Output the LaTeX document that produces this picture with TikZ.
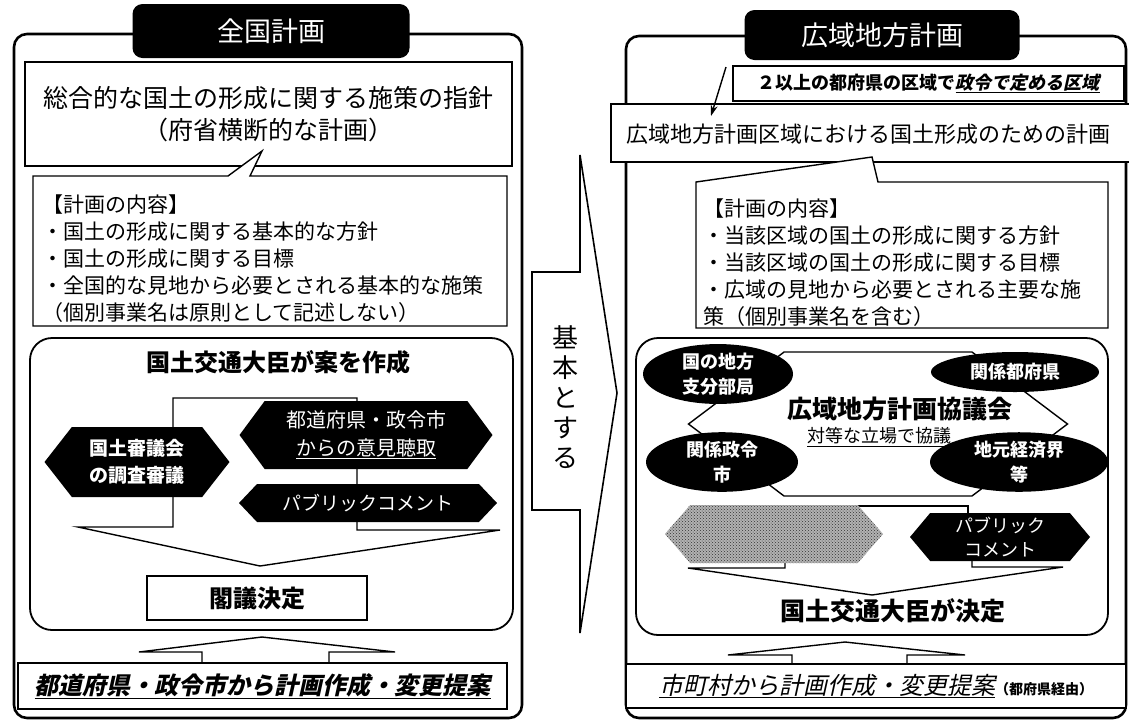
\documentclass[tikz,border=0pt]{standalone}
\usepackage{fontspec}
\setmainfont{Noto Sans CJK JP}
\newfontfamily\slantjp{Noto Sans CJK JP}[FakeSlant=0.22]
\usepackage{tikz}
\usetikzlibrary{positioning,shapes.geometric,shapes.symbols,arrows.meta,patterns}

\newcommand{\fsz}[1]{\fontsize{#1}{#1}\selectfont}

\begin{document}
\begin{tikzpicture}[x=1pt, y=-1pt,
    panel/.style={draw, line width=2.6pt, rounded corners=13pt},
    stage/.style={draw, line width=1.8pt, rounded corners=22pt},
    tab/.style={fill=black, rounded corners=10pt, text=white, inner sep=0pt, font=\fsz{27}},
    txtbox/.style={draw, line width=1.4pt, fill=white, inner sep=0pt},
    hexa/.style={signal, signal to=west and east, fill=black, text=white, inner sep=0pt, align=center},
    oval/.style={ellipse, fill=black, text=white, inner sep=0pt, align=center, font=\bfseries\fontsize{18}{25}\selectfont},
    conn/.style={line width=1.4pt}]
    \useasboundingbox (0,0) rectangle (1129,724);

    % National plan
    \draw[panel] (14,34) rectangle (522,718);
    \node[tab, minimum width=277pt, minimum height=54pt] (tab1) at (271,31) {全国計画};
    \node[txtbox, minimum width=487pt, minimum height=104pt, align=center, font=\fontsize{25}{32}\selectfont] (guide1) at (268.5,114) {総合的な国土の形成に関する施策の指針\\（府省横断的な計画）};
    \draw[txtbox] (33,326) -- (33,176) -- (228,176) -- (262,151) -- (250,176) -- (507,176) -- (507,326) -- cycle;
    \node[anchor=north west, align=left, inner sep=0pt, font=\fontsize{21}{27}\selectfont] (items1) at (42,195) {【計画の内容】\\・国土の形成に関する基本的な方針\\・国土の形成に関する目標\\・全国的な見地から必要とされる基本的な施策\\（個別事業名は原則として記述しない）};

    \draw[stage] (30,338) rectangle (513,630);
    \node[font=\bfseries\fsz{24}] (draft1) at (278,362) {国土交通大臣が案を作成};
    \draw[conn] (173,398) -- (357,398) -- (357,530) -- (500,530) -- (260,566) -- (78,527) -- (173,527) -- cycle;
    \node[hexa, minimum width=185pt, minimum height=70pt, signal pointer angle=104, font=\bfseries\fontsize{19}{27}\selectfont] (council1) at (137,462) {国土審議会\\の調査審議};
    \node[hexa, minimum width=253pt, minimum height=68pt, signal pointer angle=107, font=\fontsize{20}{28}\selectfont] (hearing1) at (366,435) {都道府県・政令市\\\underline{からの意見聴取}};
    \node[hexa, minimum width=258pt, minimum height=38pt, signal pointer angle=93, font=\fsz{19}] (public1) at (368,503) {パブリックコメント};
    \node[txtbox, minimum width=220pt, minimum height=44pt, font=\bfseries\fsz{24}] (cabinet1) at (257,598) {閣議決定};

    \draw[conn] (202,663) -- (202,652) -- (139,652) -- (262,637) -- (395,652) -- (329,652) -- (329,663);
    \node[txtbox, minimum width=489pt, minimum height=46pt, font=\slantjp\bfseries\fsz{24}] (propose1) at (262.5,686) {\underline{都道府県・政令市から計画作成・変更提案}};

    % Basis arrow
    \draw[line width=1.6pt] (532,272) -- (580,272) -- (580,155) -- (617,393) -- (580,633) -- (580,510) -- (532,510) -- cycle;
    \node[font=\fontsize{26}{30}\selectfont, align=center, inner sep=0pt] (basis) at (565,397) {基\\本\\と\\す\\る};

    % Regional plan
    \draw[panel] (626,36) rectangle (1126,718);
    \node[tab, minimum width=275pt, minimum height=50pt] (tab2) at (882,35) {広域地方計画};
    \node[txtbox, minimum width=530pt, minimum height=58pt] (guide2) at (876,133) {};
    \node[font=\fsz{22}] (guidetext2) at (868,134) {広域地方計画区域における国土形成のための計画};
    \node[txtbox, minimum width=391pt, minimum height=35pt, font=\bfseries\fsz{18}] (area2) at (928.5,83.5) {２以上の都府県の区域で{\slantjp\underline{政令で定める区域}}};
    \coordinate (areafoot) at (726,67);
    \coordinate (areatip) at (711,116);
    \draw[conn, -{Stealth[length=11pt,width=7pt]}] (areafoot) -- (areatip);
    \draw[txtbox] (696,328) -- (696,182) -- (872,157) -- (878,182) -- (1108,182) -- (1108,328) -- cycle;
    \node[anchor=north west, align=left, inner sep=0pt, font=\fontsize{21}{27}\selectfont] (items2) at (703,199) {【計画の内容】\\・当該区域の国土の形成に関する方針\\・当該区域の国土の形成に関する目標\\・広域の見地から必要とされる主要な施\\策（個別事業名を含む）};

    \draw[stage] (636,338) rectangle (1108,635);
    \node[signal, signal to=west and east, draw, line width=1.4pt, fill=white, minimum width=379pt, minimum height=144pt, signal pointer angle=74] (forum2) at (878,424) {};
    \node[font=\bfseries\fsz{25}] (forumname) at (900,409) {広域地方計画協議会};
    \node[font=\fsz{18}] (forumrule) at (879,437) {\underline{対等な立場で協議}};
    \node[oval, minimum width=150pt, minimum height=52pt] (branch2) at (718,374) {国の地方\\支分部局};
    \node[oval, minimum width=168pt, minimum height=40pt] (pref2) at (1015,372) {関係都府県};
    \node[oval, minimum width=152pt, minimum height=52pt] (city2) at (722,462) {関係政令\\市};
    \node[oval, minimum width=178pt, minimum height=52pt] (biz2) at (1019,462) {地元経済界\\等};

    \draw[conn] (853,506) -- (968,506) -- (968,515);
    \draw[conn] (785,560) -- (785,568) -- (688,568) -- (872,595) -- (1063,567) -- (972,567) -- (972,558);
    \node[hexa, preaction={fill=black!30}, pattern=crosshatch dots, pattern color=black!80, minimum width=218pt, minimum height=58pt, signal pointer angle=98] (gray2) at (774,534) {};
    \node[hexa, minimum width=180pt, minimum height=48pt, signal pointer angle=100, font=\fontsize{18}{24}\selectfont] (public2) at (1000,537) {パブリック\\コメント};
    \node[font=\bfseries\fsz{25}] (decide2) at (893,611) {国土交通大臣が決定};

    \draw[conn] (792,664) -- (792,655) -- (728,655) -- (845,642) -- (965,655) -- (907,655) -- (907,664);
    \node[txtbox, minimum width=500pt, minimum height=44pt] (propose2) at (876,686) {{\slantjp\fsz{24}\underline{市町村から計画作成・変更提案}}{\bfseries\fsz{14}（都府県経由）}};
\end{tikzpicture}
\end{document}
